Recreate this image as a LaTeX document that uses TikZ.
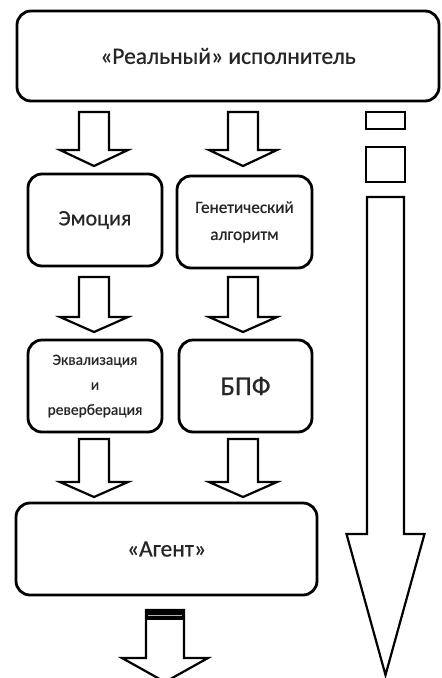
\documentclass[tikz,border=0pt]{standalone}
\usepackage{fontspec}
\setmainfont{Carlito}[FakeBold=0.6]
\newcommand\blockarrow[6]{%
  \draw[barr] (#1-#5,#2) -- (#1+#5,#2) -- (#1+#5,#3) -- (#1+#6,#3) -- (#1,#4) -- (#1-#6,#3) -- (#1-#5,#3) -- cycle;}
\tikzset{
  box/.style={draw, line width=2.8pt, rounded corners=14pt, inner sep=0pt, align=center, text=black!85},
  barr/.style={draw, line width=2.2pt, fill=white, line join=miter},
}
\begin{document}
\begin{tikzpicture}[x=1pt,y=-1pt]
\useasboundingbox (0,0) rectangle (442,678);
\fill[white] (0,0) rectangle (442,678);
\node[box, minimum width=422pt, minimum height=90pt, font=\fontsize{23.5}{28}\selectfont] (real) at (228,56) {«Реальный» исполнитель};
\node[box, minimum width=134pt, minimum height=92pt, font=\fontsize{22}{26}\selectfont] (emo) at (95,220) {Эмоция};
\node[box, minimum width=135pt, minimum height=92pt, font=\fontsize{17.2}{27}\selectfont] (gen) at (244.5,222) {Генетический\\алгоритм};
\node[box, minimum width=134pt, minimum height=92pt, font=\fontsize{15.5}{25}\selectfont] (eq) at (95,386) {Эквализация\\и\\реверберация};
\node[box, minimum width=133pt, minimum height=92pt, font=\fontsize{27}{32}\selectfont] (fft) at (245.5,386) {БПФ};
\node[box, minimum width=301pt, minimum height=92pt, font=\fontsize{23.5}{28}\selectfont] (agent) at (166.5,549) {«Агент»};
% block arrows
\blockarrow{94}{112}{150}{166}{15}{34}
\blockarrow{243}{112}{150}{166}{15}{34}
\blockarrow{94}{277}{317}{332}{15}{34}
\blockarrow{243}{277}{317}{332}{15}{34}
\blockarrow{94}{439}{482}{497}{15}{34}
\blockarrow{243}{439}{482}{497}{15}{34}
\blockarrow{165}{610}{658}{682}{19}{43}
\fill[black] (146,609) rectangle (184,620);
\draw[gray!60, line width=1.5pt] (148,615.5) -- (182,615.5);
% right side
\draw[barr] (366,112) rectangle (405,129);
\draw[barr] (366,147) rectangle (405,182);
\blockarrow{385.5}{197}{534}{675}{18.5}{39}
\end{tikzpicture}
\end{document}
